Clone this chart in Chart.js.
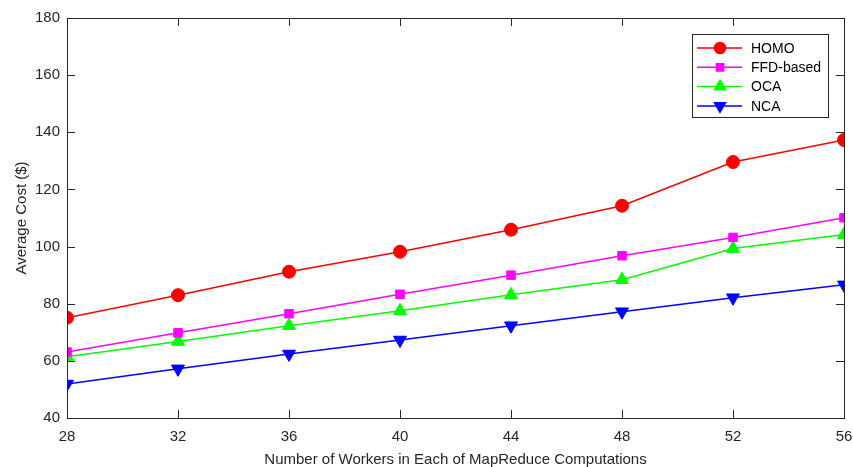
<!DOCTYPE html>
<html>
<head>
<meta charset="utf-8">
<script src="https://cdn.jsdelivr.net/npm/chart.js@4"></script>
<style>
  body { margin: 0; background: #fff; }
  #wrap { width: 853px; height: 467px; }
</style>
</head>
<body>
<div id="wrap"><canvas id="chart" width="853" height="467"></canvas></div>
<script>
const workers = [28, 32, 36, 40, 44, 48, 52, 56];
const homo = [75.1, 83.0, 91.2, 98.2, 105.9, 114.3, 129.6, 137.3];
const ffd = [63.1, 69.8, 76.5, 83.3, 90.0, 96.8, 103.2, 110.1];
const oca = [61.4, 66.8, 72.3, 77.5, 83.1, 88.4, 99.3, 104.2];
const nca = [51.9, 57.2, 62.4, 67.3, 72.3, 77.2, 82.1, 86.6];
const yTicks = [40, 60, 80, 100, 120, 140, 160, 180];

const axisColor = '#262626';
const font = 'Liberation Sans, Arial, sans-serif';

function pts(vals) {
    return workers.map((w, i) => ({ x: w, y: vals[i] }));
}

function series(label, vals, color, style, radius, rot) {
    return {
        label: label,
        data: pts(vals),
        borderColor: color,
        backgroundColor: color,
        borderWidth: 1.5,
        pointStyle: style,
        pointRadius: radius,
        pointRotation: rot || 0,
        pointBorderWidth: 1,
        pointHoverRadius: radius
    };
}

// box with inward ticks, like matlab axes
const boxPlugin = {
    id: 'box',
    afterDraw(chart) {
        const c = chart.ctx;
        const a = chart.chartArea;
        const xs = chart.scales.x, ys = chart.scales.y;
        c.save();
        c.strokeStyle = axisColor;
        c.lineWidth = 1;
        c.strokeRect(a.left + 0.5, a.top + 0.5, a.right - a.left, a.bottom - a.top);
        c.beginPath();
        workers.forEach(w => {
            const px = Math.round(xs.getPixelForValue(w)) + 0.5;
            c.moveTo(px, a.bottom); c.lineTo(px, a.bottom - 8);
            c.moveTo(px, a.top); c.lineTo(px, a.top + 8);
        });
        yTicks.forEach(v => {
            const py = Math.round(ys.getPixelForValue(v)) + 0.5;
            c.moveTo(a.left, py); c.lineTo(a.left + 8, py);
            c.moveTo(a.right, py); c.lineTo(a.right - 8, py);
        });
        c.stroke();

        // legend
        const lx = 692, ly = 34, lw = 136, lh = 83;
        c.fillStyle = '#fff';
        c.fillRect(lx, ly, lw, lh);
        c.strokeRect(lx + 0.5, ly + 0.5, lw, lh);
        chart.data.datasets.forEach((ds, i) => {
            const y = ly + 14 + i * 19.3;
            c.strokeStyle = ds.borderColor;
            c.lineWidth = 1.5;
            c.beginPath();
            c.moveTo(lx + 5, y); c.lineTo(lx + 50, y);
            c.stroke();
            c.fillStyle = ds.backgroundColor;
            Chart.helpers.drawPoint(c, {
                pointStyle: ds.pointStyle,
                radius: ds.pointRadius * 0.85,
                rotation: ds.pointRotation,
                borderWidth: 1
            }, lx + 28, y);
            c.fillStyle = '#000';
            c.font = '14px ' + font;
            c.textBaseline = 'middle';
            c.textAlign = 'left';
            c.fillText(ds.label, lx + 59, y + 1);
        });
        c.restore();
    }
};

new Chart(document.getElementById('chart'), {
    type: 'line',
    data: {
        datasets: [
            series('HOMO', homo, '#ff0000', 'circle', 6.5),
            series('FFD-based', ffd, '#ff00ff', 'rect', 6),
            series('OCA', oca, '#00ff00', 'triangle', 7.5),
            series('NCA', nca, '#0000ff', 'triangle', 7.5, 180)
        ]
    },
    options: {
        responsive: false,
        animation: false,
        layout: { padding: { top: 18, right: 9, left: 0, bottom: 0 } },
        plugins: { legend: { display: false }, tooltip: { enabled: false } },
        scales: {
            x: {
                type: 'linear',
                min: 28, max: 56,
                afterFit(s) { s.height = 49; s.paddingLeft = 0; s.paddingRight = 0; },
                afterBuildTicks(s) { s.ticks = workers.map(v => ({ value: v })); },
                grid: { display: false, drawTicks: false },
                border: { display: false },
                ticks: { color: axisColor, font: { family: font, size: 15 }, padding: 10 },
                title: { display: true, text: 'Number of Workers in Each of MapReduce Computations',
                         color: axisColor, font: { family: font, size: 15 }, padding: { top: 4, bottom: -2 } }
            },
            y: {
                min: 40, max: 180,
                afterFit(s) { s.width = 67; },
                afterBuildTicks(s) { s.ticks = yTicks.map(v => ({ value: v })); },
                grid: { display: false, drawTicks: false },
                border: { display: false },
                ticks: { color: axisColor, font: { family: font, size: 15 }, padding: 7 },
                title: { display: true, text: 'Average Cost ($)',
                         color: axisColor, font: { family: font, size: 15 }, padding: { top: 13, bottom: 4 } }
            }
        }
    },
    plugins: [boxPlugin]
});
</script>
</body>
</html>
